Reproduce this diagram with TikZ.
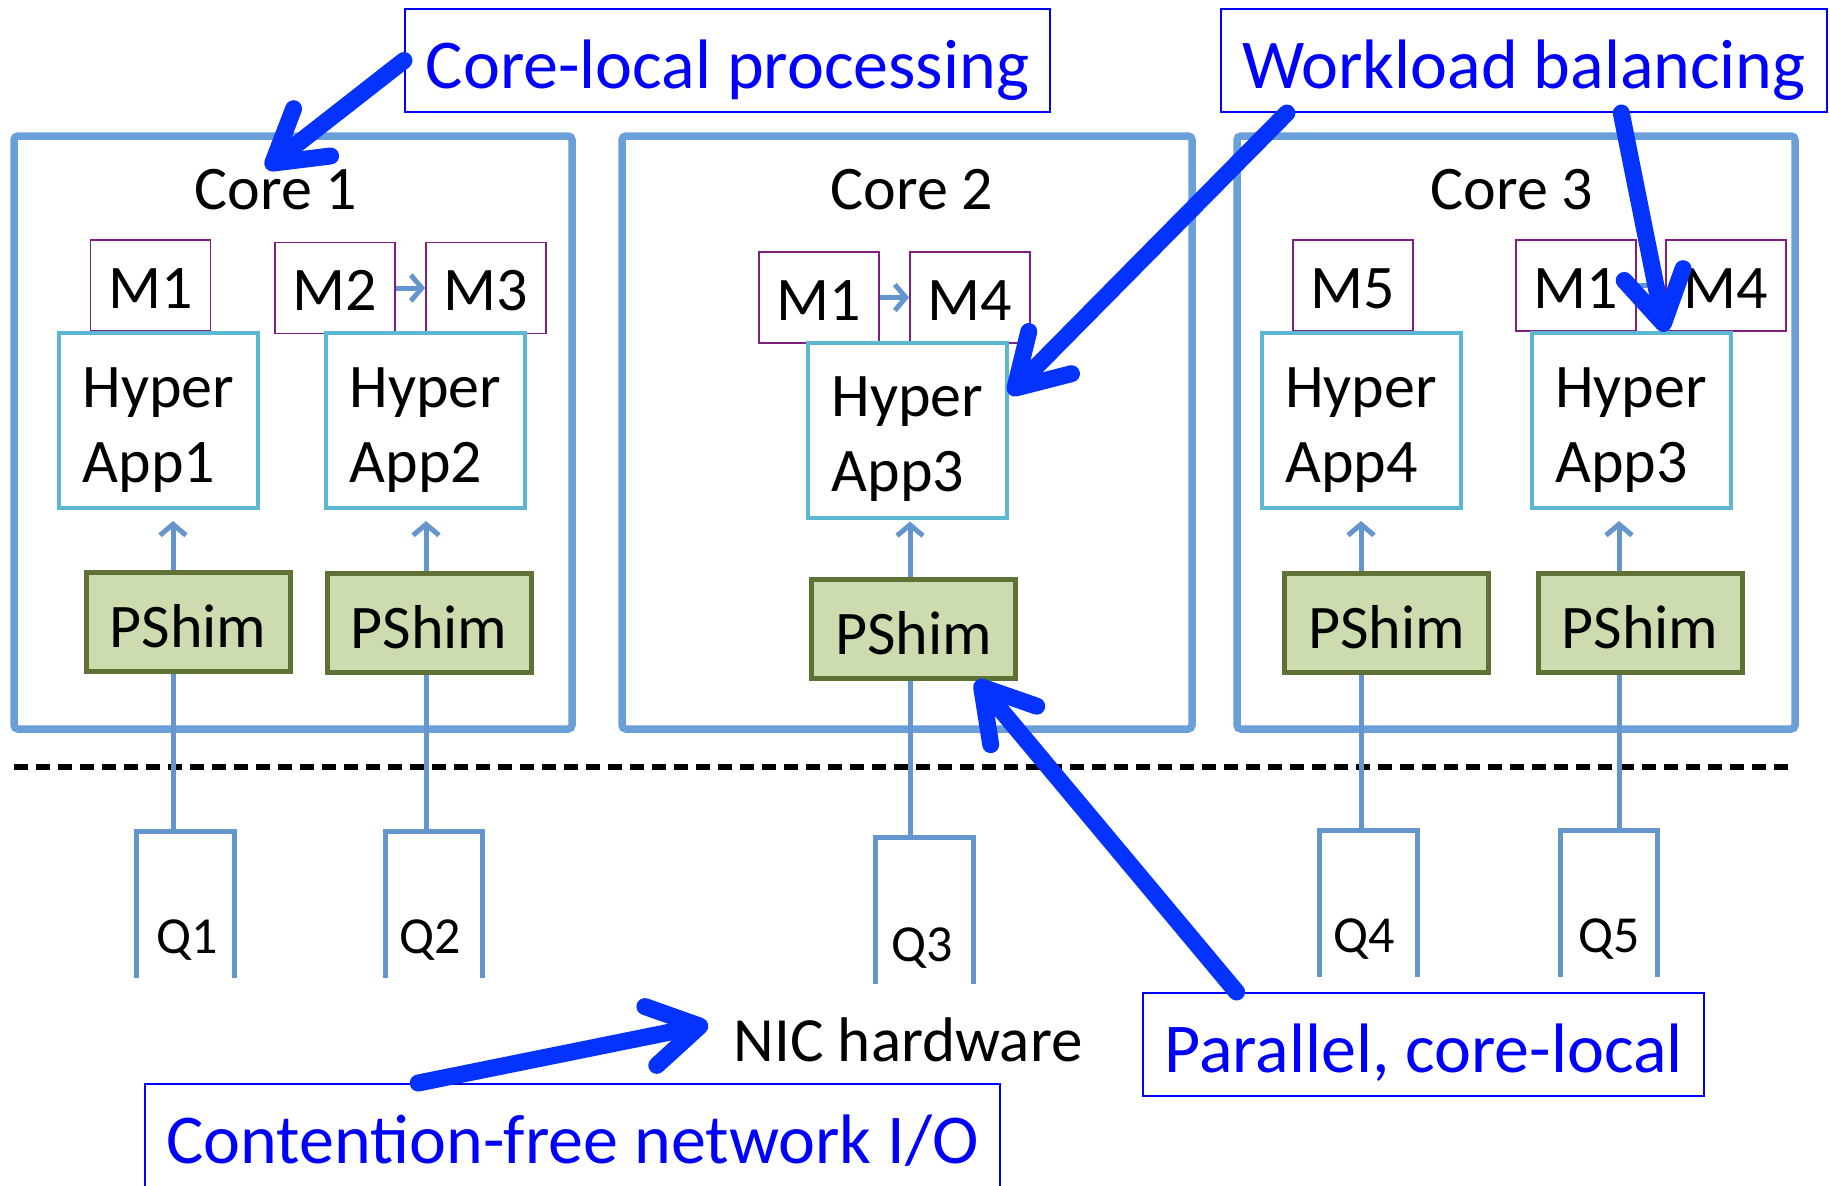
\documentclass[tikz,border=0pt]{standalone}
\usepackage{fontspec}
\setmainfont{Carlito}
\usetikzlibrary{positioning, calc, arrows.meta}

\definecolor{coreblue}{HTML}{6A9FD8}
\definecolor{appcyan}{HTML}{5BB8D0}
\definecolor{modpurple}{HTML}{7F2080}
\definecolor{shimfill}{HTML}{CDDCAE}
\definecolor{shimdraw}{HTML}{5F7236}
\definecolor{flowblue}{HTML}{6495CD}
\definecolor{callblue}{HTML}{0000FF}
\definecolor{bigblue}{HTML}{0433FF}

\begin{document}
\begin{tikzpicture}[x=0.5pt, y=-0.5pt,
    core/.style={draw=coreblue, line width=3.75pt, rounded corners=2pt, minimum height=296.5pt, inner sep=0pt},
    corelabel/.style={font=\fontsize{31}{37}\selectfont, anchor=base, inner sep=0pt},
    module/.style={draw=modpurple, line width=0.9pt, fill=white, minimum width=60pt, minimum height=45.5pt, inner sep=0pt, text height=34pt, text depth=11.5pt, font=\fontsize{31}{37}\selectfont},
    app/.style={draw=appcyan, line width=2pt, fill=white, minimum width=99.5pt, minimum height=87.5pt, inner sep=0pt, align=left, text height=74.5pt, text depth=13pt, font=\fontsize{31}{37.5}\selectfont},
    shim/.style={draw=shimdraw, fill=shimfill, line width=2.5pt, minimum width=102pt, minimum height=49.5pt, inner sep=0pt, text height=37.5pt, text depth=12pt, font=\fontsize{31}{37}\selectfont},
    queue/.style={minimum width=48.5pt, minimum height=73pt, inner sep=0pt},
    qline/.style={draw=flowblue, line width=2.5pt},
    qlabel/.style={font=\fontsize{26}{30}\selectfont, anchor=base, inner sep=0pt},
    flow/.style={draw=flowblue, line width=2.5pt, -{Straight Barb[length=5.5pt, width=13pt]}},
    callout/.style={draw=callblue, line width=1pt, text=callblue, minimum height=51.5pt, inner sep=0pt, text height=39.5pt, text depth=12pt, font=\fontsize{35}{42}\selectfont},
    bigarrow/.style={draw=bigblue, line width=8.5pt, line cap=round, -{Straight Barb[length=25pt, width=30pt, round]}},
]
    \useasboundingbox (0,0) rectangle (1830,1185);

    % cores
    \node[core, minimum width=279pt] (core1) at (293,432.5) {};
    \node[core, minimum width=285pt] (core2) at (907,432.5) {};
    \node[core, minimum width=279pt] (core3) at (1516,432.5) {};
    \node[corelabel] (c1label) at (276,209) {Core 1};
    \node[corelabel] (c2label) at (912,209) {Core 2};
    \node[corelabel] (c3label) at (1512,209) {Core 3};

    % modules
    \node[module] (m1a) at (150.5,285.5) {M1};
    \node[module] (m2a) at (335,288) {M2};
    \node[module] (m3a) at (486,288) {M3};
    \node[module] (m1b) at (819,297.5) {M1};
    \node[module] (m4b) at (970,297.5) {M4};
    \node[module] (m5c) at (1353,285.5) {M5};
    \node[module] (m1c) at (1576,285.5) {M1};
    \node[module] (m4c) at (1726,285.5) {M4};
    \draw[flow] (m2a.east) -- (m3a.west);
    \draw[flow] (m1b.east) -- (m4b.west);
    \draw[flow] (m1c.east) -- (m4c.west);

    % hyper apps
    \node[app] (app1) at (158.5,420.5) {Hyper\\App1};
    \node[app] (app2) at (425.5,420.5) {Hyper\\App2};
    \node[app] (app3) at (907.5,430) {Hyper\\App3};
    \node[app] (app4) at (1361,420.5) {Hyper\\App4};
    \node[app] (app3c) at (1631,420.5) {Hyper\\App3};

    % separator
    \draw[line width=3pt, dash pattern=on 7pt off 4pt] (14,767) -- (1788,767);

    % NIC queues
    \node[queue] (q1) at (185.5,905) {};
    \node[queue] (q2) at (434,905) {};
    \node[queue] (q3) at (924.5,911) {};
    \node[queue] (q4) at (1368.5,904) {};
    \node[queue] (q5) at (1609,904) {};
    \draw[qline] (q1.south west) |- (q1.north) -| (q1.south east);
    \draw[qline] (q2.south west) |- (q2.north) -| (q2.south east);
    \draw[qline] (q3.south west) |- (q3.north) -| (q3.south east);
    \draw[qline] (q4.south west) |- (q4.north) -| (q4.south east);
    \draw[qline] (q5.south west) |- (q5.north) -| (q5.south east);
    \node[qlabel] (q1l) at ($(q1)+(2,48)$) {Q1};
    \node[qlabel] (q2l) at ($(q2)+(-4,48)$) {Q2};
    \node[qlabel] (q3l) at ($(q3)+(-2,50)$) {Q3};
    \node[qlabel] (q4l) at ($(q4)+(-4,48)$) {Q4};
    \node[qlabel] (q5l) at ($(q5)+(0,48)$) {Q5};

    % packet paths
    \coordinate (v1) at (173,832);
    \coordinate (v2) at (426,832);
    \coordinate (v3) at (910,837);
    \coordinate (v4) at (1361,830);
    \coordinate (v5) at (1619,830);
    \draw[flow, shorten >=5.5pt] (v1) -- (v1 |- app1.south);
    \draw[flow, shorten >=5.5pt] (v2) -- (v2 |- app2.south);
    \draw[flow, shorten >=1pt] (v3) -- (v3 |- app3.south);
    \draw[flow, shorten >=5.5pt] (v4) -- (v4 |- app4.south);
    \draw[flow, shorten >=5.5pt] (v5) -- (v5 |- app3c.south);

    \node[shim] (ps1) at (188,621.5) {PShim};
    \node[shim] (ps2) at (429,622.5) {PShim};
    \node[shim] (ps3) at (913.5,628.5) {PShim};
    \node[shim] (ps4) at (1386.5,622.5) {PShim};
    \node[shim] (ps5) at (1640,622.5) {PShim};

    \node[font=\fontsize{31.5}{38}\selectfont, anchor=base, inner sep=0pt] (nic) at (908,1061) {NIC hardware};

    % callouts
    \node[callout, minimum width=322.5pt] (cl) at (727.5,60.5) {Core-local processing};
    \node[callout, minimum width=303pt] (wb) at (1524,60.5) {Workload balancing};
    \node[callout, minimum width=280.5pt] (pl) at (1423.5,1044.5) {Parallel, core-local};
    \node[callout, minimum width=427.5pt] (cf) at (572.5,1135.5) {Contention-free network I/O};

    \draw[bigarrow] (cl.west) -- ([xshift=-5pt]c1label.north);
    \draw[bigarrow] ($(wb.south west)!0.11!(wb.south east)$) -- ($(app3.north east)!0.3!(app3.south east)$);
    \draw[bigarrow] ($(wb.south west)!0.66!(wb.south east)$) -- (m4c.south west);
    \draw[bigarrow] ($(pl.north west)!0.168!(pl.north east)$) -- ($(ps3.south west)!0.8!(ps3.south east)$);
    \draw[bigarrow] ($(cf.north west)!0.32!(cf.north east)$) -- ($(nic.west)+(-25,-15)$);

\end{tikzpicture}
\end{document}
